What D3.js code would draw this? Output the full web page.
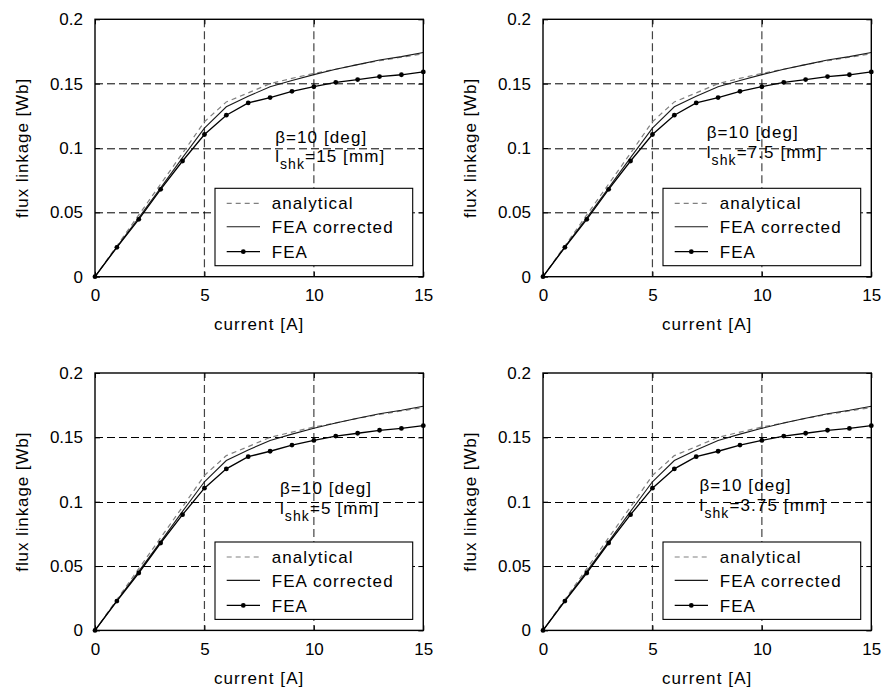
<!DOCTYPE html>
<html><head><meta charset="utf-8">
<script src="https://cdn.jsdelivr.net/npm/d3@7/dist/d3.min.js"></script>
<style>
body{margin:0;background:#fff}
text{font-family:"Liberation Sans",Arial,Helvetica,sans-serif;fill:#000}
</style>
</head><body>
<svg id="c" width="885" height="689"></svg>
<script>
// ---- data ----
const current      = [0, 1, 2, 3, 4, 5, 6, 7, 8, 9, 10, 11, 12, 13, 14, 15];
const analytical   = [0, 0.0240, 0.0480, 0.0720, 0.0960, 0.1204, 0.1358, 0.1428, 0.1500, 0.1541, 0.1580, 0.1612, 0.1648, 0.1678, 0.1705, 0.1732];
const feaCorrected = [0, 0.0232, 0.0458, 0.0690, 0.0925, 0.1155, 0.1320, 0.1402, 0.1476, 0.1525, 0.1570, 0.1612, 0.1648, 0.1684, 0.1710, 0.1742];
const fea          = [0, 0.0228, 0.0446, 0.0679, 0.0899, 0.1105, 0.1255, 0.1350, 0.1392, 0.1440, 0.1476, 0.1510, 0.1532, 0.1555, 0.1569, 0.1591];
const xTicks = [0, 5, 10, 15];
const yTicks = [0, 0.05, 0.1, 0.15, 0.2];
const xTickLabels = ["0", "5", "10", "15"];
const yTickLabels = ["0", "0.05", "0.1", "0.15", "0.2"];
const legendLabels = ["analytical", "FEA corrected", "FEA"];
const lshkLabels = ["=15 [mm]", "=7.5 [mm]", "=5 [mm]", "=3.75 [mm]"];
const betaLabel = "\u03b2=10 [deg]";
const xLabel = "current [A]";
const yLabel = "flux linkage [Wb]";

// ---- layout ----
const PW = 328.3, PH = 257.4;
const panels = [
  {left: 95,  top: 19.3, annX: 8.23, annY: 0.1039},
  {left: 543, top: 19.3, annX: 7.48, annY: 0.1074},
  {left: 95,  top: 373,  annX: 8.45, annY: 0.1056},
  {left: 543, top: 373,  annX: 7.15, annY: 0.1083}
];
const FS = 17, LS = 1.1;
const svg = d3.select("#c");

panels.forEach((p, pi) => {
  const g = svg.append("g").attr("transform", `translate(${p.left},${p.top})`);
  const x = d3.scaleLinear().domain([0, 15]).range([0, PW]);
  const y = d3.scaleLinear().domain([0, 0.2]).range([PH, 0]);

  // grid
  g.append("g").selectAll("line").data(xTicks.slice(1, -1)).join("line")
    .attr("x1", d => x(d)).attr("x2", d => x(d)).attr("y1", 0).attr("y2", PH)
    .attr("stroke", "#444").attr("stroke-width", 1.2).attr("stroke-dasharray", "8,4");
  g.append("g").selectAll("line").data(yTicks.slice(1, -1)).join("line")
    .attr("x1", 0).attr("x2", PW).attr("y1", d => Math.round(y(d)) + 0.5).attr("y2", d => Math.round(y(d)) + 0.5)
    .attr("stroke", "#000").attr("stroke-width", 1).attr("stroke-dasharray", "8,4");

  // curves
  const line = arr => d3.line().x((d, i) => x(current[i])).y(d => y(d))(arr);
  g.append("path").attr("d", line(analytical)).attr("fill", "none")
    .attr("stroke", "#808080").attr("stroke-width", 1.2).attr("stroke-dasharray", "5,4");
  g.append("path").attr("d", line(feaCorrected)).attr("fill", "none")
    .attr("stroke", "#1a1a1a").attr("stroke-width", 1.1);
  g.append("path").attr("d", line(fea)).attr("fill", "none")
    .attr("stroke", "#000").attr("stroke-width", 1.3);
  g.append("g").selectAll("circle").data(fea).join("circle")
    .attr("cx", (d, i) => x(current[i])).attr("cy", d => y(d)).attr("r", 2.4).attr("fill", "#000");

  // annotation
  const ax = x(p.annX), ay = y(p.annY);
  g.append("text").attr("x", ax).attr("y", ay).attr("font-size", FS).attr("letter-spacing", LS).text(betaLabel);
  const t2 = g.append("text").attr("x", ax).attr("y", ay + 19.5).attr("font-size", FS).attr("letter-spacing", LS);
  t2.append("tspan").text("l");
  t2.append("tspan").attr("dy", 7).attr("font-size", 14).text("shk");
  t2.append("tspan").attr("dy", -7).attr("font-size", FS).text(lshkLabels[pi]);

  // legend
  const LW = 197.7, LH = 77.4;
  const lx = PW - 10.6 - LW, ly = PH - 11 - LH;
  const lg = g.append("g").attr("transform", `translate(${lx},${ly})`);
  lg.append("rect").attr("width", LW).attr("height", LH).attr("fill", "#fff").attr("stroke", "#000").attr("stroke-width", 1.1);
  const rowY = [15, 38.4, 63.4];
  const styles = [
    {stroke: "#808080", dash: "5,4", w: 1.2},
    {stroke: "#1a1a1a", dash: null, w: 1.1},
    {stroke: "#000", dash: null, w: 1.3}
  ];
  legendLabels.forEach((lab, i) => {
    lg.append("line").attr("x1", 11.7).attr("x2", 45).attr("y1", rowY[i]).attr("y2", rowY[i])
      .attr("stroke", styles[i].stroke).attr("stroke-width", styles[i].w)
      .attr("stroke-dasharray", styles[i].dash);
    if (i === 2) lg.append("circle").attr("cx", 28.3).attr("cy", rowY[i]).attr("r", 2.4).attr("fill", "#000");
    lg.append("text").attr("x", 56.7).attr("y", rowY[i]).attr("dy", "0.36em")
      .attr("font-size", FS).attr("letter-spacing", LS).text(lab);
  });

  // axes (ticks inward on all sides)
  const ax1 = g.append("g").attr("transform", `translate(0,${PH})`)
    .call(d3.axisBottom(x).tickValues(xTicks).tickSizeInner(-5).tickSizeOuter(0).tickPadding(9)
      .tickFormat((d, i) => xTickLabels[i]));
  const ax2 = g.append("g")
    .call(d3.axisLeft(y).tickValues(yTicks).tickSizeInner(-5).tickSizeOuter(0).tickPadding(12)
      .tickFormat((d, i) => yTickLabels[i]));
  const ax3 = g.append("g")
    .call(d3.axisTop(x).tickValues(xTicks).tickSizeInner(-5).tickSizeOuter(0).tickFormat(""));
  const ax4 = g.append("g").attr("transform", `translate(${PW},0)`)
    .call(d3.axisRight(y).tickValues(yTicks).tickSizeInner(-5).tickSizeOuter(0).tickFormat(""));
  [ax1, ax2, ax3, ax4].forEach(a => {
    a.selectAll("path.domain").remove();
    a.selectAll(".tick line").attr("stroke", "#000").attr("stroke-width", 1);
    a.selectAll(".tick text").attr("font-size", 17).attr("font-family", "Liberation Sans, Arial, sans-serif").attr("fill", "#000");
  });
  ax1.selectAll(".tick text").attr("dy", "0.92em");

  g.append("rect").attr("width", PW).attr("height", PH).attr("fill", "none")
    .attr("stroke", "#000").attr("stroke-width", 1.4);

  // axis labels
  g.append("text").attr("x", PW / 2).attr("y", PH + 53.5).attr("text-anchor", "middle")
    .attr("font-size", FS).attr("letter-spacing", LS).text(xLabel);
  g.append("text").attr("transform", `translate(${-67},${PH / 2}) rotate(-90)`).attr("text-anchor", "middle")
    .attr("font-size", FS).attr("letter-spacing", 0.9).text(yLabel);
});
</script>
</body></html>
